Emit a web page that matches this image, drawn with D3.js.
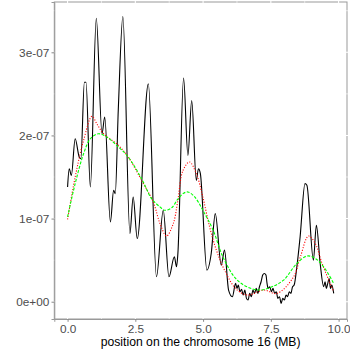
<!DOCTYPE html>
<html><head><meta charset="utf-8">
<script src="https://cdn.jsdelivr.net/npm/d3@7"></script>
<style>body{margin:0;background:#fff}svg{display:block}</style>
</head><body>
<svg id="c" width="350" height="350"></svg>
<script>
// values in units of 1e-07
const blackX = [0.00,0.06,0.14,0.28,0.43,0.49,0.62,0.68,0.84,1.06,1.27,1.37,1.58,1.70,1.76,1.87,2.04,2.30,2.42,2.57,2.98,3.28,3.53,3.74,3.94,4.02,4.07,4.28,4.44,4.58,4.75,4.83,4.90,5.14,5.30,5.45,5.67,5.79,5.94,6.08,6.20,6.25,6.30,6.36,6.42,6.48,6.54,6.60,6.66,6.72,6.78,6.84,6.90,6.96,7.02,7.08,7.14,7.20,7.26,7.32,7.36,7.40,7.46,7.52,7.58,7.64,7.70,7.76,7.82,7.88,7.94,8.00,8.06,8.12,8.18,8.24,8.30,8.36,8.46,8.58,8.76,8.83,9.07,9.18,9.32,9.45,9.50,9.55,9.60,9.65,9.70,9.75,9.82];
const blackY = [1.38,1.60,1.52,1.96,1.74,1.72,2.64,2.64,1.38,3.41,2.02,2.22,0.96,1.34,1.30,2.30,3.43,0.82,1.26,0.76,2.62,0.30,1.10,0.30,0.54,0.42,0.58,2.69,1.76,2.42,1.46,1.60,1.54,0.38,0.58,1.06,0.44,0.62,0.14,0.06,0.22,0.16,0.20,0.12,0.15,0.08,0.14,0.04,0.02,0.10,0.06,0.14,0.10,0.16,0.10,0.18,0.24,0.32,0.34,0.32,0.22,0.16,0.18,0.12,0.16,0.10,0.12,0.04,0.06,-0.02,0.04,0.02,0.08,0.06,0.12,0.10,0.18,0.20,0.42,0.78,1.42,1.40,0.50,0.92,0.46,0.18,0.24,0.16,0.22,0.28,0.16,0.20,0.10];
const redX = [0.00,0.28,0.59,0.90,1.08,1.33,1.88,2.24,2.73,3.16,3.41,3.65,3.90,4.06,4.26,4.50,4.75,4.99,5.24,5.49,5.79,6.20,6.62,7.24,7.73,8.34,8.59,8.89,9.14,9.39,9.82];
const redY = [0.99,1.50,1.94,2.23,2.14,2.02,1.88,1.74,1.46,1.20,0.94,0.79,0.94,1.20,1.58,1.68,1.54,1.26,0.90,0.62,0.38,0.16,0.08,0.14,0.10,0.30,0.54,0.79,0.70,0.46,0.12];
const greenX = [0.00,0.28,0.59,0.84,1.14,1.45,1.88,2.24,2.73,3.10,3.41,3.59,3.84,4.06,4.26,4.44,4.69,4.99,5.37,5.73,6.20,6.62,7.11,7.54,7.97,8.46,8.84,9.14,9.45,9.82];
const greenY = [1.02,1.42,1.78,1.96,2.02,1.98,1.86,1.74,1.48,1.24,1.14,1.10,1.13,1.23,1.30,1.32,1.26,1.10,0.86,0.54,0.28,0.18,0.14,0.18,0.26,0.46,0.55,0.52,0.42,0.22];
const xTicks = [0, 2.5, 5, 7.5, 10];
const xTickLabels = ["0.0","2.5","5.0","7.5","10.0"];
const yTicks = [0, 1, 2, 3];
const yTickLabels = ["0e+00","1e-07","2e-07","3e-07"];
const xMinor = [1.25, 3.75, 6.25, 8.75];
const yMinor = [0.5, 1.5, 2.5, 3.5];
const xTitle = "position on the chromosome 16 (MB)";

const L = 54.3, R = 347, T = 2, B = 319;
const x = d3.scaleLinear().domain([-0.49, 10.31]).range([L, R]);
const y = d3.scaleLinear().domain([-0.208, 3.605]).range([B, T]);
const svg = d3.select("#c");
const font = "'Liberation Sans', Arial, Helvetica, sans-serif";

// panel border
svg.append("rect").attr("x", L).attr("y", T).attr("width", R - L).attr("height", B - T)
  .attr("fill", "#fff").attr("stroke", "#999").attr("stroke-width", 1);
// white grid lines (visible only where they cross the border)
const g = svg.append("g");
xMinor.forEach(v => g.append("line").attr("x1", x(v)).attr("x2", x(v)).attr("y1", T - 1).attr("y2", B + 1).attr("stroke", "#fff").attr("stroke-width", 0.6));
yMinor.forEach(v => g.append("line").attr("y1", y(v)).attr("y2", y(v)).attr("x1", L - 1).attr("x2", R + 1).attr("stroke", "#fff").attr("stroke-width", 0.6));
xTicks.forEach(v => g.append("line").attr("x1", x(v)).attr("x2", x(v)).attr("y1", T - 1).attr("y2", B + 1).attr("stroke", "#fff").attr("stroke-width", 1.1));
yTicks.forEach(v => g.append("line").attr("y1", y(v)).attr("y2", y(v)).attr("x1", L - 1).attr("x2", R + 1).attr("stroke", "#fff").attr("stroke-width", 1.1));

// axes
const xAxis = d3.axisBottom(x).tickValues(xTicks).tickSize(2.8).tickPadding(2.5)
  .tickFormat((d, i) => xTickLabels[i]);
const yAxis = d3.axisLeft(y).tickValues(yTicks).tickSize(2.8).tickPadding(2.2)
  .tickFormat((d, i) => yTickLabels[i]);
const gx = svg.append("g").attr("transform", `translate(0,${B})`).call(xAxis);
const gy = svg.append("g").attr("transform", `translate(${L},0)`).call(yAxis);
[gx, gy].forEach(a => {
  a.select(".domain").attr("stroke", "#999");
  a.selectAll(".tick line").attr("stroke", "#888");
  a.selectAll("text").attr("fill", "#4D4D4D").style("font-family", font).style("font-size", "11.8px");
});

// lines
const mk = (xs, ys) => xs.map((v, i) => [v, ys[i]]);
const line = d3.line().x(d => x(d[0])).y(d => y(d[1])).curve(d3.curveMonotoneX);
const smooth = d3.line().x(d => x(d[0])).y(d => y(d[1])).curve(d3.curveCatmullRom);
svg.append("path").attr("d", line(mk(blackX, blackY))).attr("fill", "none")
  .attr("stroke", "#000").attr("stroke-width", 1.1).attr("stroke-linejoin", "round");
svg.append("path").attr("d", smooth(mk(redX, redY))).attr("fill", "none")
  .attr("stroke", "#FF0000").attr("stroke-width", 1.1).attr("stroke-dasharray", "1.1,1.6");
svg.append("path").attr("d", smooth(mk(greenX, greenY))).attr("fill", "none")
  .attr("stroke", "#00FF00").attr("stroke-width", 1.1).attr("stroke-dasharray", "3,1.5");

// axis title
svg.append("text").attr("x", (L + R) / 2).attr("y", 346.2).attr("text-anchor", "middle")
  .style("font-family", font).style("font-size", "12.2px").attr("fill", "#000").text(xTitle);
</script>
</body></html>
